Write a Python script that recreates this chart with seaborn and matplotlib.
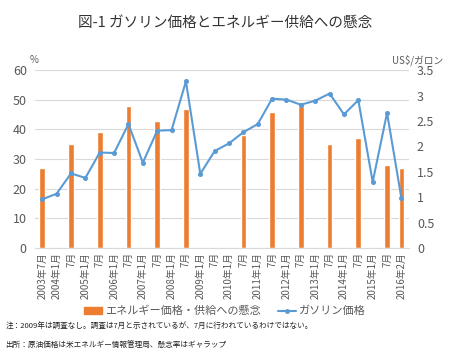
import numpy as np
import pandas as pd
import matplotlib
matplotlib.use("Agg")
import matplotlib.pyplot as plt
import seaborn as sns
from matplotlib.patches import Patch
from matplotlib.lines import Line2D

sns.set_style("white")
plt.rcParams['font.family'] = ['Noto Sans CJK JP', 'DejaVu Sans']

periods = ["2003-07", "2004-01", "2004-07", "2005-01", "2005-07", "2006-01", "2006-07",
           "2007-01", "2007-07", "2008-01", "2008-07", "2009-01", "2009-07", "2010-01",
           "2010-07", "2011-01", "2011-07", "2012-01", "2012-07", "2013-01", "2013-07",
           "2014-01", "2014-07", "2015-01", "2015-07", "2016-02"]
tick_labels = ["2003年7月", "2004年1月", "7月", "2005年1月", "7月", "2006年1月", "7月",
               "2007年1月", "7月", "2008年1月", "7月", "2009年1月", "7月", "2010年1月",
               "7月", "2011年1月", "7月", "2012年1月", "7月", "2013年1月", "7月",
               "2014年1月", "7月", "2015年1月", "7月", "2016年2月"]
concern = [27, np.nan, 35, np.nan, 39, np.nan, 48, np.nan, 43, np.nan, 47, np.nan, np.nan,
           np.nan, 38, np.nan, 46, np.nan, 48, np.nan, 35, np.nan, 37, np.nan, 28, 27]
gasoline = [0.96, 1.07, 1.47, 1.38, 1.88, 1.87, 2.44, 1.68, 2.31, 2.32, 3.28, 1.46, 1.91,
            2.06, 2.28, 2.44, 2.94, 2.92, 2.82, 2.90, 3.04, 2.63, 2.91, 1.30, 2.66, 0.98]

df = pd.DataFrame({"period": periods, "concern": concern, "gasoline": gasoline})

orange = "#ED7D31"
blue = "#5B9BD5"
grey = "#595959"

fig = plt.figure(figsize=(4.5, 3.58), dpi=100)
ax = fig.add_axes([0.078, 0.307, 0.83, 0.497])

sns.barplot(data=df, x="period", y="concern", color=orange, width=0.4,
            saturation=1, ax=ax, order=periods)
ax.set_ylim(0, 60)
ax.set_yticks(range(0, 61, 10))
ax.yaxis.grid(True, color="#D9D9D9", linewidth=0.8)
ax.set_axisbelow(True)

ax2 = ax.twinx()
sns.pointplot(data=df, x="period", y="gasoline", color=blue, order=periods,
              markers="o", markersize=2.5, linewidth=1.5, ax=ax2)
ax2.set_ylim(0, 3.5)
ax2.set_yticks(np.arange(0, 3.51, 0.5))
ax2.set_yticklabels(["0", "0.5", "1", "1.5", "2", "2.5", "3", "3.5"])

ax.set_xlim(-0.5, len(periods) - 0.5)
ax.set_xticks(range(len(periods)))
ax.set_xticklabels(tick_labels, rotation=90, fontsize=7, color=grey)
for a in (ax, ax2):
    a.set_xlabel("")
    a.set_ylabel("")
    for s in a.spines.values():
        s.set_visible(False)
    a.tick_params(length=0, colors=grey)
ax.spines["bottom"].set_visible(True)
ax.spines["bottom"].set_color("#D9D9D9")
ax.tick_params(axis="y", labelsize=9, pad=6)
ax2.tick_params(axis="y", labelsize=9, pad=6)
ax.tick_params(axis="x", pad=3)

fig.text(0.5, 0.937, "図-1 ガソリン価格とエネルギー供給への懸念", ha="center", va="center",
         fontsize=10.5, color="#333333")
fig.text(0.066, 0.832, "%", ha="left", va="center", fontsize=7, color=grey)
fig.text(0.985, 0.832, "US$/ガロン", ha="right", va="center", fontsize=7, color=grey)

handles = [Patch(facecolor=orange, edgecolor=orange),
           Line2D([0], [0], color=blue, marker="o", markersize=2.5, linewidth=1.5)]
fig.legend(handles, ["エネルギー価格・供給への懸念", "ガソリン価格"], loc="center",
           bbox_to_anchor=(0.5, 0.131), ncol=2, frameon=False, fontsize=8,
           handlelength=1.6, handletextpad=0.3, columnspacing=1.5,
           labelcolor=grey)

fig.text(0.012, 0.089, "注：2009年は調査なし。調査は7月と示されているが、7月に行われているわけではない。",
         ha="left", va="center", fontsize=5.5, color="#222222")
fig.text(0.012, 0.036, "出所：原油価格は米エネルギー情報管理局、懸念率はギャラップ",
         ha="left", va="center", fontsize=5.5, color="#222222")

fig.savefig("out.png", dpi=100)
